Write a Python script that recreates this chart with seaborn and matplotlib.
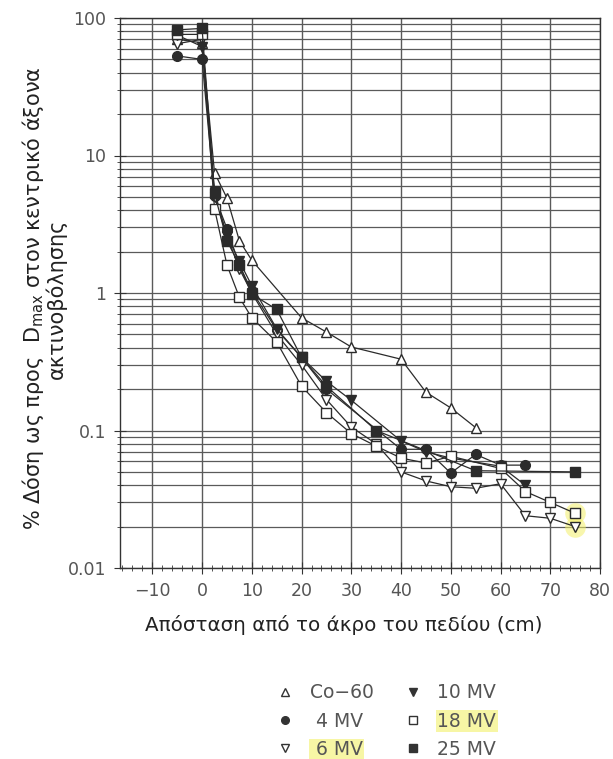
import seaborn as sns
import matplotlib.pyplot as plt
from matplotlib.lines import Line2D
from matplotlib.ticker import LogLocator, MultipleLocator, NullFormatter

sns.set_style("ticks")
plt.rcParams['font.family'] = ['DejaVu Sans']

# Δεδομένα (αναγνωσμένα από το γράφημα)
x_co60 = [-5, 0, 2.5, 5, 7.5, 10, 20, 25, 30, 40, 45, 50, 55]
y_co60 = [70, 66, 7.5, 4.9, 2.4, 1.73, 0.66, 0.52, 0.405, 0.33, 0.19, 0.146, 0.105]

x_4mv = [-5, 0, 2.5, 5, 7.5, 10, 15, 20, 25, 40, 45, 50, 55, 60, 65]
y_4mv = [53, 50, 5.1, 2.94, 1.6, 1.03, 0.54, 0.34, 0.2, 0.073, 0.073, 0.049, 0.067, 0.056, 0.056]

x_6mv = [-5, 0, 2.5, 5, 7.5, 10, 15, 20, 25, 30, 35, 40, 45, 50, 55, 60, 65, 70, 75]
y_6mv = [65, 70, 5.0, 2.6, 1.5, 1.0, 0.5, 0.3, 0.168, 0.106, 0.080, 0.050, 0.043, 0.039, 0.038, 0.041, 0.024, 0.023, 0.020]

x_10mv = [-5, 0, 2.5, 5, 7.5, 10, 15, 20, 25, 30, 40, 45, 50, 60, 65]
y_10mv = [75, 62, 5.5, 2.6, 1.7, 1.13, 0.55, 0.34, 0.228, 0.166, 0.084, 0.07, 0.063, 0.055, 0.040]

x_18mv = [-5, 0, 2.5, 5, 7.5, 10, 15, 20, 25, 30, 35, 40, 45, 50, 60, 65, 70, 75]
y_18mv = [76, 76, 4.1, 1.6, 0.93, 0.66, 0.44, 0.21, 0.135, 0.095, 0.077, 0.063, 0.058, 0.065, 0.053, 0.036, 0.030, 0.025]

x_25mv = [-5, 0, 2.5, 5, 7.5, 10, 15, 20, 25, 35, 55, 75]
y_25mv = [82, 84, 5.3, 2.4, 1.6, 0.98, 0.76, 0.34, 0.21, 0.10, 0.051, 0.050]

labels = ["Co\u221260", " 4 MV", " 6 MV", "10 MV", "18 MV", "25 MV"]
xs = [x_co60, x_4mv, x_6mv, x_10mv, x_18mv, x_25mv]
ys = [y_co60, y_4mv, y_6mv, y_10mv, y_18mv, y_25mv]

markers = ["^", "o", "v", "v", "s", "s"]
filled = [False, True, False, True, False, True]

fig = plt.figure(figsize=(6.13, 7.59), dpi=100)
ax = fig.add_axes([120 / 613, 1 - 568 / 759, 480 / 613, 550 / 759])

ink = "#2b2b2b"
for x, y, m, f in zip(xs, ys, markers, filled):
    sns.lineplot(x=x, y=y, ax=ax, color=ink, lw=0.9, marker=m, ms=7,
                 mfc=ink if f else "white", mec=ink, mew=1.0, zorder=3)

# κίτρινη υπογράμμιση στα τελευταία σημεία 6 MV και 18 MV
for x, y in [(x_6mv, y_6mv), (x_18mv, y_18mv)]:
    ax.scatter(x[-1], y[-1], s=220, color="#f3f06a", alpha=0.55, lw=0, zorder=1)

ax.set_yscale("log")
ax.set_ylim(0.01, 100)
ax.set_xlim(-16.5, 80)

ax.set_yticks([0.01, 0.1, 1, 10, 100], labels=["0.01", "0.1", "1", "10", "100"])
ax.yaxis.set_minor_locator(LogLocator(base=10, subs=range(2, 10), numticks=20))
ax.yaxis.set_minor_formatter(NullFormatter())
ax.set_xticks(range(-10, 81, 10))
ax.xaxis.set_minor_locator(MultipleLocator(2))

ax.grid(which="both", axis="y", color="#5a5a5a", lw=0.9)
ax.grid(which="major", axis="x", color="#5a5a5a", lw=1.0)
ax.set_axisbelow(True)

for s in ax.spines.values():
    s.set_color("#333")
    s.set_linewidth(1.0)

ax.tick_params(axis="both", which="major", direction="inout", length=8,
               labelsize=12.5, labelcolor="#555", color="#333", pad=6)
ax.tick_params(axis="both", which="minor", direction="inout", length=5, color="#333")

ax.set_xlabel("Απόσταση από το άκρο του πεδίου (cm)", fontsize=14.3, color="#222")
ax.xaxis.set_label_coords(0.467, -0.085)
ax.set_ylabel("% Δόση ως προς  $\\mathregular{D_{max}}$ στον κεντρικό άξονα\nακτινοβόλησης",
              fontsize=15, color="#222", linespacing=1.0)
ax.yaxis.set_label_coords(-0.11, 0.49)

handles = [Line2D([], [], ls="none", marker=m, ms=5.5, mec="#333",
                  mfc="#333" if f else "white", mew=1.0)
           for m, f in zip(markers, filled)]
leg = fig.legend(handles, labels, ncol=2, loc="center", bbox_to_anchor=(0.63, 0.05),
                 frameon=False, fontsize=13.5, labelspacing=0.5, columnspacing=1.6,
                 handletextpad=0.8, handlelength=1.0)
for t in leg.get_texts():
    t.set_color("#555")
for i in (2, 4):
    leg.get_texts()[i].set_bbox(dict(facecolor="#f3f06a", alpha=0.6, edgecolor="none", pad=1))

fig.savefig("out.png", dpi=100)
